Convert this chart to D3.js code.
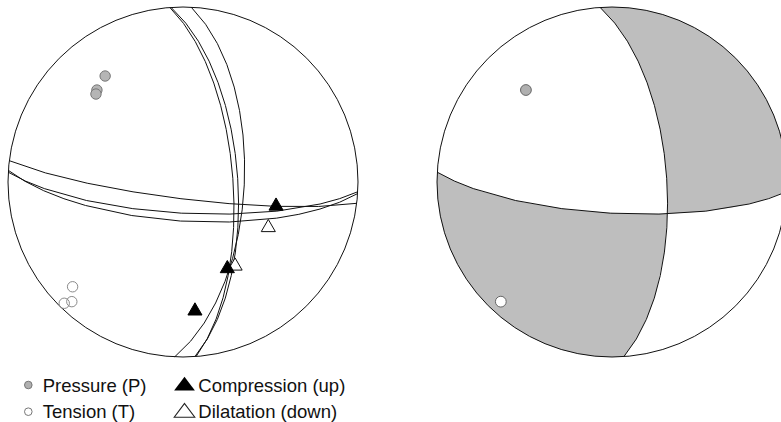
<!DOCTYPE html>
<html>
<head>
<meta charset="utf-8">
<script src="https://cdn.jsdelivr.net/npm/d3@7"></script>
<style>
  body { margin: 0; background: #fff; }
  svg { display: block; }
  text { font-family: "Liberation Sans", Arial, Helvetica, sans-serif; fill: #111; }
</style>
</head>
<body>
<svg id="chart" width="781" height="422"></svg>
<script>
// Nodal planes of the three candidate focal mechanisms, [strike, dip] in degrees
const planesA = [[2.7, 61.3], [356.1, 64.4], [355.7, 66.7]];
const planesB = [[97.0, 82.2], [93.2, 75.5], [93.8, 71.8]];
// Pressure and tension axes of each mechanism, [trend, plunge] in degrees
const pAxes = [[323.7, 25.8], [316.9, 28.8], [315.3, 30.0]];
const tAxes = [[226.5, 14.1], [222.9, 7.4], [224.4, 3.4]];
// First-motion polarities, [station azimuth, take-off angle from downward vertical]
const compressions = [[104.5, 45.7], [152.9, 46.3], [174.7, 63.1]];
const dilatations  = [[118.1, 46.0], [148.2, 47.1]];
// Mechanism drawn as a shaded beach ball
const preferred = 1;
// Legend entries
const legendLabels = ["Pressure (P)", "Tension (T)", "Compression (up)", "Dilatation (down)"];

const svg = d3.select("#chart");
const rad = Math.PI / 180;

// Lower-hemisphere equal-area (Schmidt) net: nadir at the centre, north up, east right
function makeProjection(cx, cy, r, clip) {
  const p = d3.geoAzimuthalEqualArea()
    .rotate([0, -90])
    .scale(r / Math.SQRT2)
    .translate([cx, cy]);
  if (clip) p.clipAngle(90);
  return p;
}
// [trend, plunge] -> geographic [lon, lat] used by the projection
const toGeo = ([trend, plunge]) => [180 - trend, plunge];
const toVec = ([trend, plunge]) => [
  Math.cos(plunge * rad) * Math.cos(trend * rad),
  Math.cos(plunge * rad) * Math.sin(trend * rad),
  Math.sin(plunge * rad)
];
const fromVec = ([n, e, d]) => {
  const len = Math.hypot(n, e, d);
  return [(Math.atan2(e, n) / rad + 360) % 360, Math.asin(d / len) / rad];
};
const cross = (a, b) => [a[1]*b[2]-a[2]*b[1], a[2]*b[0]-a[0]*b[2], a[0]*b[1]-a[1]*b[0]];
const dot = (a, b) => a[0]*b[0] + a[1]*b[1] + a[2]*b[2];
const neg = a => a.map(v => -v);
const norm = a => { const l = Math.hypot(...a); return a.map(v => v / l); };
const poleOf = ([strike, dip]) => toVec([strike + 270, 90 - dip]);

// Great-circle trace of a plane across the lower hemisphere
function planeTrace([strike, dip]) {
  return { type: "LineString", coordinates: [
    toGeo([strike, 0]), toGeo([strike + 90, dip]), toGeo([strike + 180, 0])
  ]};
}

// Compressional lunes of a double-couple, bounded by both nodal planes
function compressionalLunes(pa, pb, tAxis) {
  const n1 = poleOf(pa), n2 = poleOf(pb);
  const b = norm(cross(n1, n2));
  const w1 = norm(cross(n1, b)), w2 = norm(cross(n2, b));
  const t = toVec(tAxis);
  const s1 = Math.sign(dot(w1, t)) || 1, s2 = Math.sign(dot(w2, t)) || 1;
  const lune = (a, c) => {
    const ring = [b, a, neg(b), c, b].map(v => toGeo(fromVec(v)));
    let f = { type: "Polygon", coordinates: [ring] };
    if (d3.geoArea(f) > 2 * Math.PI) f = { type: "Polygon", coordinates: [ring.slice().reverse()] };
    return f;
  };
  return [lune(w1.map(v => v * s1), w2.map(v => v * s2)),
          lune(w1.map(v => -v * s1), w2.map(v => -v * s2))];
}

const triangle = d3.symbol().type(d3.symbolTriangle).size(86);

// ---------- Left: all solutions with first motions ----------
{
  const cx = 183, cy = 182, r = 175;
  const proj = makeProjection(cx, cy, r, false);
  const path = d3.geoPath(proj);
  const g = svg.append("g");

  g.append("circle").attr("cx", cx).attr("cy", cy).attr("r", r)
    .attr("fill", "#fff").attr("stroke", "#111").attr("stroke-width", 1);

  g.selectAll("path.plane").data(planesA.concat(planesB)).join("path")
    .attr("class", "plane")
    .attr("d", d => path(planeTrace(d)))
    .attr("fill", "none").attr("stroke", "#111").attr("stroke-width", 1);

  g.selectAll("circle.p").data(pAxes).join("circle")
    .attr("class", "p")
    .attr("cx", d => proj(toGeo(d))[0]).attr("cy", d => proj(toGeo(d))[1])
    .attr("r", 5.2).attr("fill", "#b5b5b5").attr("stroke", "#777").attr("stroke-width", 1);

  g.selectAll("circle.t").data(tAxes).join("circle")
    .attr("class", "t")
    .attr("cx", d => proj(toGeo(d))[0]).attr("cy", d => proj(toGeo(d))[1])
    .attr("r", 5.2).attr("fill", "none").attr("stroke", "#8a8a8a").attr("stroke-width", 1);

  const stationPos = ([az, takeoff]) => proj(toGeo([az, 90 - takeoff]));

  g.selectAll("path.dil").data(dilatations).join("path")
    .attr("class", "dil")
    .attr("transform", d => `translate(${stationPos(d)})`)
    .attr("d", triangle)
    .attr("fill", "#fff").attr("stroke", "#111").attr("stroke-width", 1);

  g.selectAll("path.comp").data(compressions).join("path")
    .attr("class", "comp")
    .attr("transform", d => `translate(${stationPos(d)})`)
    .attr("d", triangle)
    .attr("fill", "#000").attr("stroke", "#000").attr("stroke-width", 1);
}

// ---------- Right: preferred mechanism as a beach ball ----------
{
  const cx = 612, cy = 182, r = 175;
  const proj = makeProjection(cx, cy, r, false);
  const projClip = makeProjection(cx, cy, r, true);
  const path = d3.geoPath(proj);
  const pathClip = d3.geoPath(projClip);
  const g = svg.append("g");
  const pa = planesA[preferred], pb = planesB[preferred];

  g.append("circle").attr("cx", cx).attr("cy", cy).attr("r", r).attr("fill", "#fff");

  g.selectAll("path.lune").data(compressionalLunes(pa, pb, tAxes[preferred])).join("path")
    .attr("class", "lune")
    .attr("d", pathClip)
    .attr("fill", "#bebebe").attr("stroke", "none");

  g.append("circle").attr("cx", cx).attr("cy", cy).attr("r", r)
    .attr("fill", "none").attr("stroke", "#111").attr("stroke-width", 1);

  g.selectAll("path.plane").data([pa, pb]).join("path")
    .attr("class", "plane")
    .attr("d", d => path(planeTrace(d)))
    .attr("fill", "none").attr("stroke", "#111").attr("stroke-width", 1);

  const P = proj(toGeo(pAxes[preferred])), T = proj(toGeo(tAxes[preferred]));
  g.append("circle").attr("cx", P[0]).attr("cy", P[1]).attr("r", 5.4)
    .attr("fill", "#b0b0b0").attr("stroke", "#666").attr("stroke-width", 1);
  g.append("circle").attr("cx", T[0]).attr("cy", T[1]).attr("r", 5.4)
    .attr("fill", "#fff").attr("stroke", "#666").attr("stroke-width", 1);
}

// ---------- Legend ----------
{
  const g = svg.append("g").attr("font-size", 18.5);
  const rows = [385, 411.7];
  g.append("circle").attr("cx", 28.3).attr("cy", rows[0]).attr("r", 3.8)
    .attr("fill", "#b0b0b0").attr("stroke", "#777").attr("stroke-width", 1);
  g.append("circle").attr("cx", 28.3).attr("cy", rows[1]).attr("r", 3.8)
    .attr("fill", "#fff").attr("stroke", "#777").attr("stroke-width", 1);
  const legTri = d3.symbol().type(d3.symbolTriangle).size(110);
  g.append("path").attr("transform", `translate(184.5,${rows[0] + 1}) scale(1.3,1)`)
    .attr("d", legTri).attr("fill", "#000");
  g.append("path").attr("transform", `translate(184.5,${rows[1] + 1}) scale(1.3,1)`)
    .attr("d", legTri).attr("fill", "#fff").attr("stroke", "#222").attr("stroke-width", 0.9);
  const tx = [42.7, 42.7, 198.3, 198.3];
  const ty = [rows[0] + 6.7, rows[1] + 6.7, rows[0] + 6.7, rows[1] + 6.7];
  g.selectAll("text").data(legendLabels).join("text")
    .attr("x", (d, i) => tx[i]).attr("y", (d, i) => ty[i])
    .text(d => d);
}
</script>
</body>
</html>
